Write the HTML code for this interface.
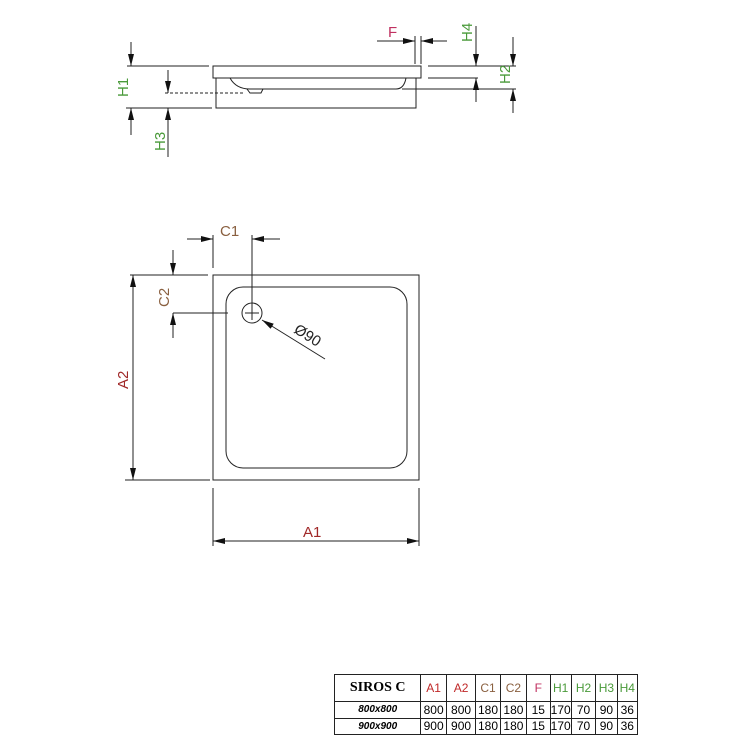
<!DOCTYPE html>
<html><head><style>html,body{margin:0;padding:0;background:#fff}svg{display:block}
td{border:1px solid #222;text-align:center;font-family:"Liberation Sans",sans-serif;font-size:12px;padding:0}
</style></head><body>
<svg width="746" height="746" viewBox="0 0 746 746" xmlns="http://www.w3.org/2000/svg" font-family="Liberation Sans, sans-serif">
<defs>
<marker id="a" markerWidth="12" markerHeight="6" refX="12" refY="3" orient="auto" markerUnits="userSpaceOnUse"><path d="M0,0 L12,3 L0,6z" fill="#111"/></marker>
</defs>
<g stroke="#222" stroke-width="1" fill="none">
<rect x="213" y="66" width="208" height="12"/>
<path d="M216,78 V108 H416 V78"/>
<path d="M230,78 Q236,89 250,89 H396 Q404,89 406,78"/>
<path d="M247,89 L250,93 H261 L263,89"/>
<line x1="165" y1="93" x2="245" y2="93" stroke-dasharray="3,2"/>
<line x1="127" y1="66" x2="209" y2="66"/>
<line x1="126" y1="108" x2="212" y2="108"/>
<line x1="131" y1="42" x2="131" y2="66" marker-end="url(#a)"/>
<line x1="131" y1="135" x2="131" y2="108" marker-end="url(#a)"/>
<line x1="168" y1="70" x2="168" y2="93" marker-end="url(#a)"/>
<line x1="168" y1="157" x2="168" y2="108" marker-end="url(#a)"/>
<line x1="428" y1="66" x2="516" y2="66"/>
<line x1="428" y1="78" x2="478" y2="78"/>
<line x1="402" y1="89" x2="516" y2="89"/>
<line x1="476" y1="26" x2="476" y2="66" marker-end="url(#a)"/>
<line x1="476" y1="102" x2="476" y2="78" marker-end="url(#a)"/>
<line x1="513" y1="37" x2="513" y2="66" marker-end="url(#a)"/>
<line x1="513" y1="113" x2="513" y2="89" marker-end="url(#a)"/>
<line x1="415" y1="36" x2="415" y2="64"/>
<line x1="421" y1="36" x2="421" y2="64"/>
<line x1="377" y1="41" x2="415" y2="41" marker-end="url(#a)"/>
<line x1="447" y1="41" x2="421" y2="41" marker-end="url(#a)"/>
<rect x="213" y="275" width="206" height="205"/>
<rect x="226" y="287" width="181" height="181" rx="17"/>
<circle cx="252" cy="313" r="10"/>
<line x1="245" y1="313" x2="259" y2="313"/>
<line x1="252" y1="235" x2="252" y2="320"/>
<line x1="173" y1="313" x2="228" y2="313"/>
<line x1="213" y1="235" x2="213" y2="268"/>
<line x1="130" y1="275" x2="208" y2="275"/>
<line x1="125" y1="480" x2="210" y2="480"/>
<line x1="187" y1="239" x2="213" y2="239" marker-end="url(#a)"/>
<line x1="280" y1="239" x2="252" y2="239" marker-end="url(#a)"/>
<line x1="173" y1="250" x2="173" y2="275" marker-end="url(#a)"/>
<line x1="173" y1="338" x2="173" y2="313" marker-end="url(#a)"/>
<line x1="133" y1="378" x2="133" y2="275" marker-end="url(#a)"/>
<line x1="133" y1="378" x2="133" y2="480" marker-end="url(#a)"/>
<line x1="325" y1="359" x2="262" y2="320" marker-end="url(#a)"/>
<line x1="213" y1="488" x2="213" y2="546"/>
<line x1="419" y1="488" x2="419" y2="546"/>
<line x1="316" y1="541" x2="213" y2="541" marker-end="url(#a)"/>
<line x1="316" y1="541" x2="419" y2="541" marker-end="url(#a)"/>
</g>
<g font-size="15">
<text x="388" y="37" fill="#c03060">F</text>
<text transform="translate(472,42) rotate(-90)" fill="#4a9a3a">H4</text>
<text transform="translate(510,84) rotate(-90)" fill="#4a9a3a">H2</text>
<text transform="translate(128,97) rotate(-90)" fill="#4a9a3a">H1</text>
<text transform="translate(165,151) rotate(-90)" fill="#4a9a3a">H3</text>
<text x="220" y="236" fill="#8a6040">C1</text>
<text transform="translate(169,307) rotate(-90)" fill="#8a6040">C2</text>
<text transform="translate(128,389) rotate(-90)" fill="#a02828">A2</text>
<text x="303" y="537" fill="#a02828">A1</text>
<text transform="translate(293,332) rotate(32)" fill="#222">Ø90</text>
</g>
</svg>
<table style="position:absolute;left:334px;top:674px;border-collapse:collapse;width:304px;height:61px;table-layout:fixed" >
<colgroup><col style="width:85px"><col style="width:25px"><col style="width:29px"><col style="width:24px"><col style="width:26px"><col style="width:23px"><col style="width:21px"><col style="width:24px"><col style="width:21px"><col style="width:20px"></colgroup>
<tr style="height:27px"><td style="font-family:'Liberation Serif',serif;font-weight:bold;font-size:14px">SIROS C</td><td style="color:#c02828">A1</td><td style="color:#c02828">A2</td><td style="color:#8a6040">C1</td><td style="color:#8a6040">C2</td><td style="color:#c03060">F</td><td style="color:#4a9a3a">H1</td><td style="color:#4a9a3a">H2</td><td style="color:#4a9a3a">H3</td><td style="color:#4a9a3a">H4</td></tr>
<tr><td style="font-style:italic;font-weight:bold;font-size:10px">800x800</td><td>800</td><td>800</td><td>180</td><td>180</td><td>15</td><td>170</td><td>70</td><td>90</td><td>36</td></tr>
<tr><td style="font-style:italic;font-weight:bold;font-size:10px">900x900</td><td>900</td><td>900</td><td>180</td><td>180</td><td>15</td><td>170</td><td>70</td><td>90</td><td>36</td></tr>
</table>
</body></html>
